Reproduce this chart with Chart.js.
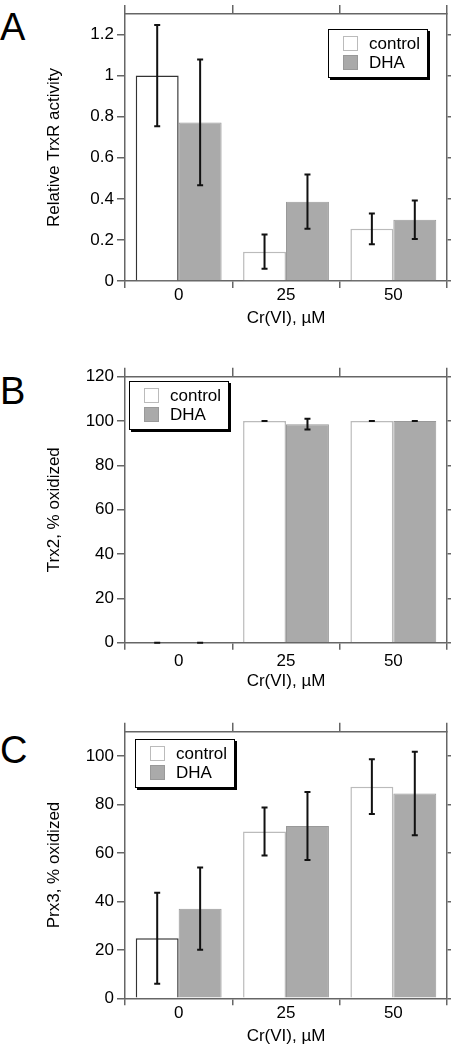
<!DOCTYPE html>
<html>
<head>
<meta charset="utf-8">
<script src="https://cdn.jsdelivr.net/npm/chart.js@4"></script>
<style>
  body { margin: 0; width: 451px; height: 1050px; background: #fff; position: relative; overflow: hidden;
         font-family: 'Liberation Sans', Arial, sans-serif; }
  canvas { position: absolute; left: 0; }
  .letter { position: absolute; left: 0; font-size: 38px; line-height: 38px; color: #000; }
  .legend { position: absolute; width: 100px; height: 49px; box-sizing: border-box; background: #fff;
            border: 1.5px solid #000; box-shadow: 2px 2px 0 #000; font-size: 17px; }
  .legend .sw { position: absolute; left: 14px; width: 15px; height: 15px; box-sizing: border-box; border: 1px solid; }
  .legend .tx { position: absolute; left: 40px; line-height: 19px; }
</style>
</head>
<body>

<div class="letter" style="top:8px">A</div>
<div class="letter" style="top:372px">B</div>
<div class="letter" style="top:731px">C</div>

<canvas id="graficaA" width="451" height="335" style="top:0px"></canvas>
<canvas id="graficaB" width="451" height="360" style="top:335px"></canvas>
<canvas id="graficaC" width="451" height="355" style="top:695px"></canvas>

<div class="legend" id="legendA" style="left:328px; top:29px"></div>
<div class="legend" id="legendB" style="left:129px; top:381px"></div>
<div class="legend" id="legendC" style="left:135px; top:739px"></div>

<script>
// Datos

const categories = ['0', '25', '50'];
const seriesNames = ['control', 'DHA'];

// A - actividad TrxR
const trxrControl = [1.0, 0.143, 0.254];
const trxrControlErr = [0.247, 0.083, 0.075];
const trxrDha = [0.772, 0.386, 0.298];
const trxrDhaErr = [0.306, 0.132, 0.094];

// B - Trx2 oxidada
const trx2Control = [0, 100, 100];
const trx2ControlErr = [0, 0, 0];
const trx2Dha = [0, 98.6, 100];
const trx2DhaErr = [0, 2.4, 0];

// C - Prx3 oxidada
const prx3Control = [24.8, 68.8, 87.3];
const prx3ControlErr = [18.8, 9.9, 11.3];
const prx3Dha = [37.0, 71.1, 84.5];
const prx3DhaErr = [17.0, 14.0, 17.2];

const FONT = "'Liberation Sans', Arial, sans-serif";
const AXIS = '#666';
const DHA_FILL = '#aaaaaa';
const DHA_LINE = '#999999';
const CTRL_LINE = '#bbbbbb';

// Barras de error

const errorBars = {
  id: 'errorBars',
  afterDatasetsDraw(chart) {
    const ctx = chart.ctx;
    const y = chart.scales.y;
    ctx.save();
    ctx.strokeStyle = '#111';
    ctx.lineWidth = 2;
    chart.data.datasets.forEach((ds, i) => {
      const meta = chart.getDatasetMeta(i);
      meta.data.forEach((bar, j) => {
        const v = ds.data[j];
        const e = ds.errors[j];
        const top = y.getPixelForValue(v + e);
        const bot = y.getPixelForValue(v - e);
        ctx.beginPath();
        ctx.moveTo(bar.x, top);
        ctx.lineTo(bar.x, bot);
        ctx.moveTo(bar.x - 3, top);
        ctx.lineTo(bar.x + 3, top);
        ctx.moveTo(bar.x - 3, bot);
        ctx.lineTo(bar.x + 3, bot);
        ctx.stroke();
      });
    });
    ctx.restore();
  }
};

function grafica(id, p) {
  const H = document.getElementById(id).height;
  const tickFont = { family: FONT, size: 17 };
  const titleFont = { family: FONT, size: 17 };

  return new Chart(document.getElementById(id), {
    type: 'bar',
    data: {
      labels: categories,
      datasets: [{
        label: seriesNames[0],
        data: p.control,
        errors: p.controlErr,
        backgroundColor: '#fff',
        borderColor: p.controlBorder,
        borderWidth: 1.5
      }, {
        label: seriesNames[1],
        data: p.dha,
        errors: p.dhaErr,
        backgroundColor: DHA_FILL,
        borderColor: DHA_LINE,
        borderWidth: 1
      }]
    },
    options: {
      responsive: false,
      animation: false,
      layout: { padding: 0 },
      datasets: { bar: { categoryPercentage: 0.8, barPercentage: 1.0 } },
      plugins: { legend: { display: false }, tooltip: { enabled: false } },
      scales: {
        x: {
          position: 'bottom',
          offset: true,
          grid: { offset: true, drawOnChartArea: false, tickLength: 7, color: AXIS, lineWidth: 1.5 },
          border: { color: AXIS, width: 1.5 },
          ticks: { font: tickFont, color: '#000', padding: p.tickPad },
          title: { display: true, text: 'Cr(VI), µM', font: titleFont, color: '#000', padding: { top: 0, bottom: p.titlePad } },
          afterFit: s => { s.height = H - p.bottom; }
        },
        xTop: {
          type: 'category',
          position: 'top',
          offset: true,
          grid: { offset: true, drawOnChartArea: false, tickLength: 9, color: AXIS, lineWidth: 1.5 },
          border: { color: AXIS, width: 1.5 },
          ticks: { display: false },
          afterFit: s => { s.height = p.top; }
        },
        y: {
          position: 'left',
          min: 0,
          max: p.max,
          grid: { drawOnChartArea: false, tickLength: 8, color: AXIS, lineWidth: 1.5 },
          border: { color: AXIS, width: 1.5 },
          ticks: {
            stepSize: p.step,
            includeBounds: false,
            font: tickFont,
            color: '#000',
            padding: 3,
            callback: v => String(Math.round(v * 10) / 10)
          },
          title: { display: true, text: p.yTitle, font: titleFont, color: '#000', padding: { top: 44, bottom: 0 } },
          afterFit: s => { s.width = 125; }
        },
        yR: {
          type: 'linear',
          position: 'right',
          min: 0,
          max: p.max,
          grid: { drawOnChartArea: false, tickLength: 4, color: AXIS, lineWidth: 1.5 },
          border: { color: AXIS, width: 1.5 },
          ticks: { stepSize: p.step, includeBounds: false, display: false },
          afterFit: s => { s.width = 4; }
        }
      }
    },
    plugins: [errorBars]
  });
}

// Leyendas

function leyenda(id) {
  const box = document.getElementById(id);
  const fills = ['#fff', DHA_FILL];
  const lines = [CTRL_LINE, DHA_LINE];
  const rows = [15, 34];
  seriesNames.forEach((name, i) => {
    box.innerHTML += `<div class="sw" style="top:${rows[i] - 7.5 - 1.5}px; background:${fills[i]}; border-color:${lines[i]}"></div>
                      <div class="tx" style="top:${rows[i] - 9.5 - 1.5}px">${name}</div>`;
  });
}

grafica('graficaA', {
  control: trxrControl, controlErr: trxrControlErr,
  dha: trxrDha, dhaErr: trxrDhaErr,
  controlBorder: ['#333', CTRL_LINE, CTRL_LINE],
  yTitle: 'Relative TrxR activity',
  max: 1.3, step: 0.2,
  top: 14, bottom: 281, tickPad: -3.2, titlePad: 6.8
});

grafica('graficaB', {
  control: trx2Control, controlErr: trx2ControlErr,
  dha: trx2Dha, dhaErr: trx2DhaErr,
  controlBorder: [CTRL_LINE, CTRL_LINE, CTRL_LINE],
  yTitle: 'Trx2, % oxidized',
  max: 120, step: 20,
  top: 41.7, bottom: 307.7, tickPad: 1.1, titlePad: 3.8
});

grafica('graficaC', {
  control: prx3Control, controlErr: prx3ControlErr,
  dha: prx3Dha, dhaErr: prx3DhaErr,
  controlBorder: ['#333', CTRL_LINE, CTRL_LINE],
  yTitle: 'Prx3, % oxidized',
  max: 110, step: 20,
  top: 36.7, bottom: 303.3, tickPad: -1.9, titlePad: 3.8
});

leyenda('legendA');
leyenda('legendB');
leyenda('legendC');
</script>
</body>
</html>
